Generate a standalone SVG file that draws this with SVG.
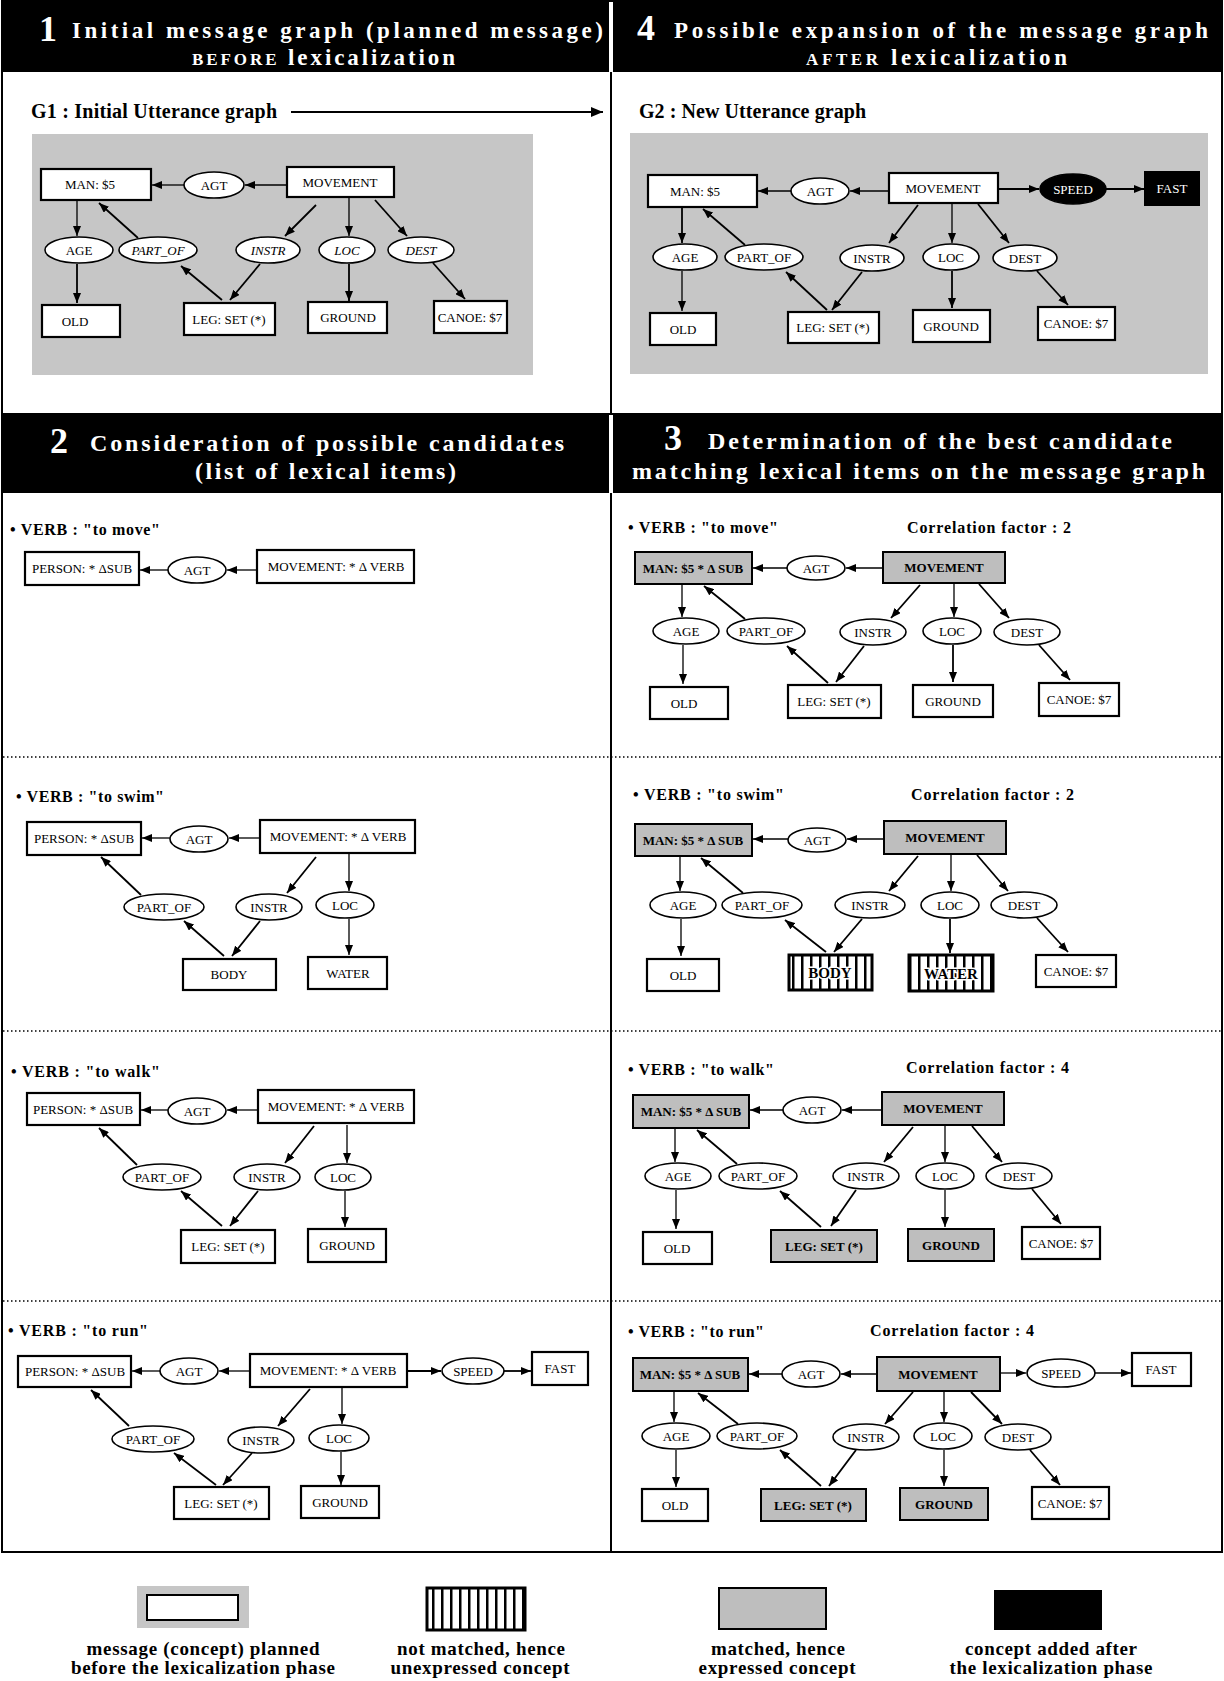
<svg xmlns="http://www.w3.org/2000/svg" width="1224" height="1681" viewBox="0 0 1224 1681">
<style>
.frame{fill:none;stroke:#000;stroke-width:2}
.hdr{fill:#000}
.ht{font-family:"Liberation Serif","Times New Roman",serif;font-weight:bold;fill:#fff;font-size:24px}
.ht1{font-size:23px}
.hn{font-family:"Liberation Serif","Times New Roman",serif;font-weight:bold;fill:#fff;font-size:36px}
.sc{font-size:17px}
.lbl{font-family:"Liberation Serif","Times New Roman",serif;font-weight:bold;font-size:16px;fill:#000}
.g{font-family:"Liberation Serif","Times New Roman",serif;font-weight:bold;font-size:20px;fill:#000}
.bg{fill:#c6c6c6}
.box{fill:#fff;stroke:#000;stroke-width:2.2}
.gbox{fill:#bebebe;stroke:#000;stroke-width:2}
.sbox{fill:url(#stripes);stroke:#000;stroke-width:3}
.kbox{fill:#000;stroke:#000;stroke-width:2}
.ell{fill:#fff;stroke:#000;stroke-width:1.6}
.kell{fill:#000;stroke:#000;stroke-width:1.6}
.t{font-family:"Liberation Serif","Times New Roman",serif;font-size:13px;text-anchor:middle;fill:#000}
.b{font-weight:bold}
.i{font-style:italic}
.w{fill:#fff}
.big{font-size:15px;stroke:#fff;stroke-width:3px;paint-order:stroke;stroke-linejoin:round}
.e{fill:none;stroke:#000;stroke-width:1.8;marker-end:url(#ah)}
.h{stroke-width:1.3}
.dot{fill:none;stroke:#000;stroke-width:1.5;stroke-dasharray:1.5 2.5}
.leg{font-family:"Liberation Serif","Times New Roman",serif;font-weight:bold;font-size:19px;text-anchor:middle;fill:#000}
</style>
<defs>
<marker id="ah" viewBox="0 0 10 8" refX="10" refY="4" markerWidth="10" markerHeight="8" markerUnits="userSpaceOnUse" orient="auto"><path d="M0,0 L10,4 L0,8 z" fill="#000"/></marker>
<marker id="ahb" viewBox="0 0 12 10" refX="12" refY="5" markerWidth="13" markerHeight="10" markerUnits="userSpaceOnUse" orient="auto"><path d="M0,0 L12,5 L0,10 z" fill="#000"/></marker>
<pattern id="stripes" width="9" height="10" patternUnits="userSpaceOnUse"><rect width="9" height="10" fill="#fff"/><rect x="0" width="2.5" height="10" fill="#000"/></pattern>
</defs>
<rect width="1224" height="1681" fill="#fff"/>

<!-- frame and dividers -->
<g id="frame">
<rect class="frame" x="2" y="1" width="1220" height="1551"/>
<line x1="2" y1="414" x2="1222" y2="414" stroke="#000" stroke-width="2"/>
<line x1="611" y1="72" x2="611" y2="414" stroke="#000" stroke-width="2"/>
<line x1="611" y1="493" x2="611" y2="1552" stroke="#000" stroke-width="2"/>
<line class="dot" x1="3" y1="757" x2="1221" y2="757"/>
<line class="dot" x1="3" y1="1031" x2="1221" y2="1031"/>
<line class="dot" x1="3" y1="1301" x2="1221" y2="1301"/>
</g>

<!-- headers -->
<g id="header1">
<rect class="hdr" x="2" y="1" width="607" height="71"/>
<text class="hn" x="39" y="41">1</text>
<text class="ht ht1" x="72" y="38" textLength="531">Initial message graph (planned message)</text>
<text class="ht ht1" x="192" y="65" textLength="263"><tspan class="sc">BEFORE</tspan> lexicalization</text>
</g>
<g id="header4">
<rect class="hdr" x="613" y="1" width="609" height="71"/>
<text class="hn" x="637" y="40">4</text>
<text class="ht ht1" x="674" y="38" textLength="534">Possible expansion of the message graph</text>
<text class="ht ht1" x="806" y="65" textLength="261"><tspan class="sc">AFTER</tspan> lexicalization</text>
</g>
<g id="header2">
<rect class="hdr" x="2" y="415" width="607" height="78"/>
<text class="hn" x="50" y="453">2</text>
<text class="ht" x="90" y="451" textLength="474">Consideration of possible candidates</text>
<text class="ht" x="195" y="479" textLength="261">(list of lexical items)</text>
</g>
<g id="header3">
<rect class="hdr" x="613" y="415" width="609" height="78"/>
<text class="hn" x="664" y="450">3</text>
<text class="ht" x="708" y="449" textLength="464">Determination of the best candidate</text>
<text class="ht" x="632" y="479" textLength="573">matching lexical items on the message graph</text>
</g>

<!-- panel 1 -->
<text class="g" x="31" y="118" textLength="246">G1 : Initial Utterance graph</text>
<rect class="bg" x="32" y="134" width="501" height="241"/>
<g id="p1-man"><rect class="box" x="41" y="169" width="110" height="31"/><text class="t" x="90" y="189">MAN: $5</text></g>
<g id="p1-agt"><ellipse class="ell" cx="214" cy="185" rx="30" ry="13"/><text class="t" x="214" y="189.5">AGT</text></g>
<g id="p1-mov"><rect class="box" x="287" y="167" width="107" height="30"/><text class="t" x="340" y="186.5">MOVEMENT</text></g>
<g id="p1-age"><ellipse class="ell" cx="79" cy="250" rx="34" ry="13"/><text class="t" x="79" y="254.5">AGE</text></g>
<g id="p1-partof"><ellipse class="ell" cx="158" cy="250" rx="39" ry="13"/><text class="t i" x="158" y="254.5">PART_OF</text></g>
<g id="p1-instr"><ellipse class="ell" cx="268" cy="250" rx="32" ry="13"/><text class="t i" x="268" y="254.5">INSTR</text></g>
<g id="p1-loc"><ellipse class="ell" cx="347" cy="250" rx="28" ry="13"/><text class="t i" x="347" y="254.5">LOC</text></g>
<g id="p1-dest"><ellipse class="ell" cx="421" cy="250" rx="33" ry="13"/><text class="t i" x="421" y="254.5">DEST</text></g>
<g id="p1-old"><rect class="box" x="42" y="305" width="78" height="32"/><text class="t" x="75" y="325.5">OLD</text></g>
<g id="p1-leg"><rect class="box" x="184" y="303" width="91" height="32"/><text class="t" x="229" y="323.5">LEG: SET (*)</text></g>
<g id="p1-ground"><rect class="box" x="308" y="302" width="79" height="31"/><text class="t" x="348" y="322">GROUND</text></g>
<g id="p1-canoe"><rect class="box" x="434" y="301" width="73" height="32"/><text class="t" x="470" y="321.5">CANOE: $7</text></g>

<!-- panel 4 -->
<text class="g" x="639" y="118" textLength="227">G2 : New Utterance graph</text>
<rect class="bg" x="630" y="133" width="578" height="241"/>
<g id="p4-man"><rect class="box" x="648" y="175" width="109" height="32"/><text class="t" x="695" y="195.5">MAN: $5</text></g>
<g id="p4-agt"><ellipse class="ell" cx="820" cy="191" rx="29" ry="13"/><text class="t" x="820" y="195.5">AGT</text></g>
<g id="p4-mov"><rect class="box" x="889" y="173" width="109" height="30"/><text class="t" x="943" y="192.5">MOVEMENT</text></g>
<g id="p4-speed"><ellipse class="kell" cx="1073" cy="189" rx="33" ry="15"/><text class="t w" x="1073" y="193.5">SPEED</text></g>
<g id="p4-fast"><rect class="kbox" x="1145" y="172" width="54" height="33"/><text class="t w" x="1172" y="193">FAST</text></g>
<g id="p4-age"><ellipse class="ell" cx="685" cy="257" rx="32" ry="13"/><text class="t" x="685" y="261.5">AGE</text></g>
<g id="p4-partof"><ellipse class="ell" cx="764" cy="257" rx="39" ry="13"/><text class="t" x="764" y="261.5">PART_OF</text></g>
<g id="p4-instr"><ellipse class="ell" cx="872" cy="258" rx="32" ry="13"/><text class="t" x="872" y="262.5">INSTR</text></g>
<g id="p4-loc"><ellipse class="ell" cx="951" cy="257" rx="28" ry="13"/><text class="t" x="951" y="261.5">LOC</text></g>
<g id="p4-dest"><ellipse class="ell" cx="1025" cy="258" rx="32" ry="13"/><text class="t" x="1025" y="262.5">DEST</text></g>
<g id="p4-old"><rect class="box" x="650" y="313" width="66" height="32"/><text class="t" x="683" y="333.5">OLD</text></g>
<g id="p4-leg"><rect class="box" x="788" y="312" width="91" height="31"/><text class="t" x="833" y="332">LEG: SET (*)</text></g>
<g id="p4-ground"><rect class="box" x="913" y="310" width="77" height="32"/><text class="t" x="951" y="330.5">GROUND</text></g>
<g id="p4-canoe"><rect class="box" x="1038" y="307" width="77" height="33"/><text class="t" x="1076" y="328">CANOE: $7</text></g>

<!-- row 1 -->
<text class="lbl" x="10" y="535" textLength="150">• VERB : "to move"</text>
<g id="r1l-person"><rect class="box" x="25" y="552" width="114" height="33"/><text class="t" x="82" y="573">PERSON: * ΔSUB</text></g>
<g id="r1l-agt"><ellipse class="ell" cx="197" cy="570" rx="29" ry="13"/><text class="t" x="197" y="574.5">AGT</text></g>
<g id="r1l-mov"><rect class="box" x="257" y="550" width="157" height="33"/><text class="t" x="336" y="571">MOVEMENT: * Δ VERB</text></g>

<text class="lbl" x="628" y="533" textLength="150">• VERB : "to move"</text>
<text class="lbl" x="907" y="533" textLength="164">Correlation factor : 2</text>
<g id="r1r-man"><rect class="gbox" x="635" y="552" width="117" height="32"/><text class="t b" x="693" y="572.5">MAN: $5 * Δ SUB</text></g>
<g id="r1r-agt"><ellipse class="ell" cx="816" cy="568" rx="29" ry="12"/><text class="t" x="816" y="572.5">AGT</text></g>
<g id="r1r-mov"><rect class="gbox" x="883" y="552" width="122" height="31"/><text class="t b" x="944" y="572">MOVEMENT</text></g>
<g id="r1r-age"><ellipse class="ell" cx="686" cy="631" rx="33" ry="13"/><text class="t" x="686" y="635.5">AGE</text></g>
<g id="r1r-partof"><ellipse class="ell" cx="766" cy="631" rx="39" ry="13"/><text class="t" x="766" y="635.5">PART_OF</text></g>
<g id="r1r-instr"><ellipse class="ell" cx="873" cy="632" rx="33" ry="13"/><text class="t" x="873" y="636.5">INSTR</text></g>
<g id="r1r-loc"><ellipse class="ell" cx="952" cy="631" rx="29" ry="13"/><text class="t" x="952" y="635.5">LOC</text></g>
<g id="r1r-dest"><ellipse class="ell" cx="1027" cy="632" rx="33" ry="13"/><text class="t" x="1027" y="636.5">DEST</text></g>
<g id="r1r-old"><rect class="box" x="650" y="687" width="78" height="32"/><text class="t" x="684" y="707.5">OLD</text></g>
<g id="r1r-leg"><rect class="box" x="788" y="685" width="93" height="33"/><text class="t" x="834" y="706">LEG: SET (*)</text></g>
<g id="r1r-ground"><rect class="box" x="913" y="685" width="80" height="32"/><text class="t" x="953" y="705.5">GROUND</text></g>
<g id="r1r-canoe"><rect class="box" x="1039" y="683" width="80" height="33"/><text class="t" x="1079" y="704">CANOE: $7</text></g>

<!-- row 2 -->
<text class="lbl" x="16" y="802" textLength="148">• VERB : "to swim"</text>
<g id="r2l-person"><rect class="box" x="27" y="822" width="114" height="33"/><text class="t" x="84" y="843">PERSON: * ΔSUB</text></g>
<g id="r2l-agt"><ellipse class="ell" cx="199" cy="839" rx="29" ry="13"/><text class="t" x="199" y="843.5">AGT</text></g>
<g id="r2l-mov"><rect class="box" x="260" y="820" width="155" height="33"/><text class="t" x="338" y="841">MOVEMENT: * Δ VERB</text></g>
<g id="r2l-partof"><ellipse class="ell" cx="164" cy="907" rx="40" ry="13"/><text class="t" x="164" y="911.5">PART_OF</text></g>
<g id="r2l-instr"><ellipse class="ell" cx="269" cy="907" rx="33" ry="13"/><text class="t" x="269" y="911.5">INSTR</text></g>
<g id="r2l-loc"><ellipse class="ell" cx="345" cy="905" rx="29" ry="13"/><text class="t" x="345" y="909.5">LOC</text></g>
<g id="r2l-body"><rect class="box" x="183" y="959" width="93" height="31"/><text class="t" x="229" y="979">BODY</text></g>
<g id="r2l-water"><rect class="box" x="308" y="957" width="79" height="32"/><text class="t" x="348" y="977.5">WATER</text></g>

<text class="lbl" x="633" y="800" textLength="151">• VERB : "to swim"</text>
<text class="lbl" x="911" y="800" textLength="163">Correlation factor : 2</text>
<g id="r2r-man"><rect class="gbox" x="635" y="824" width="117" height="32"/><text class="t b" x="693" y="844.5">MAN: $5 * Δ SUB</text></g>
<g id="r2r-agt"><ellipse class="ell" cx="817" cy="840" rx="29" ry="12"/><text class="t" x="817" y="844.5">AGT</text></g>
<g id="r2r-mov"><rect class="gbox" x="884" y="821" width="122" height="33"/><text class="t b" x="945" y="842">MOVEMENT</text></g>
<g id="r2r-age"><ellipse class="ell" cx="683" cy="905" rx="33" ry="13"/><text class="t" x="683" y="909.5">AGE</text></g>
<g id="r2r-partof"><ellipse class="ell" cx="762" cy="905" rx="40" ry="13"/><text class="t" x="762" y="909.5">PART_OF</text></g>
<g id="r2r-instr"><ellipse class="ell" cx="870" cy="905" rx="35" ry="13"/><text class="t" x="870" y="909.5">INSTR</text></g>
<g id="r2r-loc"><ellipse class="ell" cx="950" cy="905" rx="29" ry="13"/><text class="t" x="950" y="909.5">LOC</text></g>
<g id="r2r-dest"><ellipse class="ell" cx="1024" cy="905" rx="33" ry="13"/><text class="t" x="1024" y="909.5">DEST</text></g>
<g id="r2r-old"><rect class="box" x="647" y="959" width="72" height="32"/><text class="t" x="683" y="979.5">OLD</text></g>
<g id="r2r-body"><rect class="sbox" x="789" y="955" width="83" height="35"/><text class="t b big" x="830" y="978">BODY</text></g>
<g id="r2r-water"><rect class="sbox" x="909" y="955" width="84" height="36"/><text class="t b big" x="951" y="978.5">WATER</text></g>
<g id="r2r-canoe"><rect class="box" x="1036" y="955" width="80" height="32"/><text class="t" x="1076" y="975.5">CANOE: $7</text></g>

<!-- row 3 -->
<text class="lbl" x="11" y="1077" textLength="149">• VERB : "to walk"</text>
<g id="r3l-person"><rect class="box" x="27" y="1093" width="113" height="32"/><text class="t" x="83" y="1113.5">PERSON: * ΔSUB</text></g>
<g id="r3l-agt"><ellipse class="ell" cx="197" cy="1111" rx="29" ry="13"/><text class="t" x="197" y="1115.5">AGT</text></g>
<g id="r3l-mov"><rect class="box" x="258" y="1090" width="156" height="33"/><text class="t" x="336" y="1111">MOVEMENT: * Δ VERB</text></g>
<g id="r3l-partof"><ellipse class="ell" cx="162" cy="1177" rx="39" ry="13"/><text class="t" x="162" y="1181.5">PART_OF</text></g>
<g id="r3l-instr"><ellipse class="ell" cx="267" cy="1177" rx="33" ry="13"/><text class="t" x="267" y="1181.5">INSTR</text></g>
<g id="r3l-loc"><ellipse class="ell" cx="343" cy="1177" rx="28" ry="13"/><text class="t" x="343" y="1181.5">LOC</text></g>
<g id="r3l-leg"><rect class="box" x="181" y="1230" width="94" height="33"/><text class="t" x="228" y="1251">LEG: SET (*)</text></g>
<g id="r3l-ground"><rect class="box" x="308" y="1229" width="78" height="33"/><text class="t" x="347" y="1250">GROUND</text></g>

<text class="lbl" x="628" y="1075" textLength="146">• VERB : "to walk"</text>
<text class="lbl" x="906" y="1073" textLength="163">Correlation factor : 4</text>
<g id="r3r-man"><rect class="gbox" x="633" y="1095" width="116" height="33"/><text class="t b" x="691" y="1116">MAN: $5 * Δ SUB</text></g>
<g id="r3r-agt"><ellipse class="ell" cx="812" cy="1110" rx="29" ry="13"/><text class="t" x="812" y="1114.5">AGT</text></g>
<g id="r3r-mov"><rect class="gbox" x="882" y="1092" width="122" height="33"/><text class="t b" x="943" y="1113">MOVEMENT</text></g>
<g id="r3r-age"><ellipse class="ell" cx="678" cy="1176" rx="33" ry="13"/><text class="t" x="678" y="1180.5">AGE</text></g>
<g id="r3r-partof"><ellipse class="ell" cx="758" cy="1176" rx="39" ry="13"/><text class="t" x="758" y="1180.5">PART_OF</text></g>
<g id="r3r-instr"><ellipse class="ell" cx="866" cy="1176" rx="33" ry="13"/><text class="t" x="866" y="1180.5">INSTR</text></g>
<g id="r3r-loc"><ellipse class="ell" cx="945" cy="1176" rx="29" ry="13"/><text class="t" x="945" y="1180.5">LOC</text></g>
<g id="r3r-dest"><ellipse class="ell" cx="1019" cy="1176" rx="33" ry="13"/><text class="t" x="1019" y="1180.5">DEST</text></g>
<g id="r3r-old"><rect class="box" x="643" y="1232" width="69" height="32"/><text class="t" x="677" y="1252.5">OLD</text></g>
<g id="r3r-leg"><rect class="gbox" x="771" y="1230" width="106" height="32"/><text class="t b" x="824" y="1250.5">LEG: SET (*)</text></g>
<g id="r3r-ground"><rect class="gbox" x="908" y="1229" width="86" height="32"/><text class="t b" x="951" y="1249.5">GROUND</text></g>
<g id="r3r-canoe"><rect class="box" x="1022" y="1227" width="78" height="32"/><text class="t" x="1061" y="1247.5">CANOE: $7</text></g>

<!-- row 4 -->
<text class="lbl" x="8" y="1336" textLength="140">• VERB : "to run"</text>
<g id="r4l-person"><rect class="box" x="18" y="1356" width="113" height="31"/><text class="t" x="75" y="1376">PERSON: * ΔSUB</text></g>
<g id="r4l-agt"><ellipse class="ell" cx="189" cy="1371" rx="29" ry="13"/><text class="t" x="189" y="1375.5">AGT</text></g>
<g id="r4l-mov"><rect class="box" x="250" y="1354" width="157" height="33"/><text class="t" x="328" y="1375">MOVEMENT: * Δ VERB</text></g>
<g id="r4l-speed"><ellipse class="ell" cx="473" cy="1371" rx="31" ry="13"/><text class="t" x="473" y="1375.5">SPEED</text></g>
<g id="r4l-fast"><rect class="box" x="532" y="1352" width="56" height="33"/><text class="t" x="560" y="1373">FAST</text></g>
<g id="r4l-partof"><ellipse class="ell" cx="153" cy="1439" rx="41" ry="13"/><text class="t" x="153" y="1443.5">PART_OF</text></g>
<g id="r4l-instr"><ellipse class="ell" cx="261" cy="1440" rx="33" ry="13"/><text class="t" x="261" y="1444.5">INSTR</text></g>
<g id="r4l-loc"><ellipse class="ell" cx="339" cy="1438" rx="30" ry="13"/><text class="t" x="339" y="1442.5">LOC</text></g>
<g id="r4l-leg"><rect class="box" x="174" y="1487" width="95" height="32"/><text class="t" x="221" y="1507.5">LEG: SET (*)</text></g>
<g id="r4l-ground"><rect class="box" x="301" y="1486" width="78" height="32"/><text class="t" x="340" y="1506.5">GROUND</text></g>

<text class="lbl" x="628" y="1337" textLength="136">• VERB : "to run"</text>
<text class="lbl" x="870" y="1336" textLength="164">Correlation factor : 4</text>
<g id="r4r-man"><rect class="gbox" x="633" y="1358" width="115" height="33"/><text class="t b" x="690" y="1379">MAN: $5 * Δ SUB</text></g>
<g id="r4r-agt"><ellipse class="ell" cx="811" cy="1374" rx="29" ry="13"/><text class="t" x="811" y="1378.5">AGT</text></g>
<g id="r4r-mov"><rect class="gbox" x="877" y="1357" width="123" height="34"/><text class="t b" x="938" y="1378.5">MOVEMENT</text></g>
<g id="r4r-speed"><ellipse class="ell" cx="1061" cy="1373" rx="34" ry="14"/><text class="t" x="1061" y="1377.5">SPEED</text></g>
<g id="r4r-fast"><rect class="box" x="1132" y="1353" width="59" height="33"/><text class="t" x="1161" y="1374">FAST</text></g>
<g id="r4r-age"><ellipse class="ell" cx="676" cy="1436" rx="34" ry="13"/><text class="t" x="676" y="1440.5">AGE</text></g>
<g id="r4r-partof"><ellipse class="ell" cx="757" cy="1436" rx="40" ry="13"/><text class="t" x="757" y="1440.5">PART_OF</text></g>
<g id="r4r-instr"><ellipse class="ell" cx="866" cy="1437" rx="33" ry="13"/><text class="t" x="866" y="1441.5">INSTR</text></g>
<g id="r4r-loc"><ellipse class="ell" cx="943" cy="1436" rx="29" ry="13"/><text class="t" x="943" y="1440.5">LOC</text></g>
<g id="r4r-dest"><ellipse class="ell" cx="1018" cy="1437" rx="33" ry="13"/><text class="t" x="1018" y="1441.5">DEST</text></g>
<g id="r4r-old"><rect class="box" x="642" y="1489" width="66" height="32"/><text class="t" x="675" y="1509.5">OLD</text></g>
<g id="r4r-leg"><rect class="gbox" x="761" y="1489" width="105" height="32"/><text class="t b" x="813" y="1509.5">LEG: SET (*)</text></g>
<g id="r4r-ground"><rect class="gbox" x="900" y="1488" width="88" height="32"/><text class="t b" x="944" y="1508.5">GROUND</text></g>
<g id="r4r-canoe"><rect class="box" x="1032" y="1487" width="77" height="32"/><text class="t" x="1070" y="1507.5">CANOE: $7</text></g>

<!-- connectors -->
<g id="connectors">
<path d="M291,112 L603,112" fill="none" stroke="#000" stroke-width="2" marker-end="url(#ahb)"/>
<!-- p1 -->
<path class="e h" d="M286,185 L245,185"/>
<path class="e h" d="M184,185 L152,185"/>
<path class="e h" d="M77,201 L77,236"/>
<path class="e" d="M138,238 L99,203"/>
<path class="e" d="M316,205 L285,236"/>
<path class="e h" d="M349,198 L349,236"/>
<path class="e" d="M375,200 L407,236"/>
<path class="e" d="M77,264 L77,303"/>
<path class="e" d="M222,300 L181,266"/>
<path class="e" d="M260,264 L230,300"/>
<path class="e" d="M349,264 L349,301"/>
<path class="e" d="M433,263 L465,299"/>
<!-- p4 -->
<path class="e h" d="M889,191 L850,191"/>
<path class="e h" d="M791,191 L758,191"/>
<path class="e" d="M998,189 L1039,189"/>
<path class="e" d="M1106,189 L1144,189"/>
<path class="e" d="M682,208 L682,243"/>
<path class="e" d="M745,245 L703,209"/>
<path class="e" d="M918,205 L889,243"/>
<path class="e h" d="M952,204 L952,243"/>
<path class="e" d="M978,204 L1009,243"/>
<path class="e h" d="M682,271 L682,311"/>
<path class="e" d="M827,310 L786,272"/>
<path class="e" d="M862,272 L832,310"/>
<path class="e" d="M952,271 L952,308"/>
<path class="e" d="M1037,271 L1068,305"/>
<!-- r1 left -->
<path class="e h" d="M257,570 L227,570"/>
<path class="e h" d="M168,570 L140,570"/>
<!-- r1 right -->
<path class="e h" d="M883,568 L846,568"/>
<path class="e h" d="M787,568 L753,568"/>
<path class="e h" d="M682,585 L682,617"/>
<path class="e" d="M745,619 L704,586"/>
<path class="e" d="M920,585 L891,618"/>
<path class="e h" d="M954,584 L954,617"/>
<path class="e" d="M979,584 L1009,618"/>
<path class="e h" d="M683,645 L683,684"/>
<path class="e" d="M828,683 L787,646"/>
<path class="e" d="M864,646 L836,682"/>
<path class="e" d="M953,645 L953,682"/>
<path class="e" d="M1039,645 L1070,680"/>
<!-- r2 left -->
<path class="e h" d="M260,838 L229,838"/>
<path class="e h" d="M170,838 L142,838"/>
<path class="e" d="M141,895 L101,857"/>
<path class="e" d="M316,857 L287,893"/>
<path class="e h" d="M349,854 L349,891"/>
<path class="e" d="M224,956 L184,921"/>
<path class="e" d="M260,921 L232,956"/>
<path class="e h" d="M349,919 L349,955"/>
<!-- r2 right -->
<path class="e h" d="M884,839 L847,839"/>
<path class="e h" d="M788,839 L753,839"/>
<path class="e h" d="M680,857 L680,891"/>
<path class="e" d="M743,893 L701,858"/>
<path class="e" d="M918,856 L889,891"/>
<path class="e h" d="M951,855 L951,891"/>
<path class="e" d="M977,855 L1008,891"/>
<path class="e h" d="M681,919 L681,956"/>
<path class="e" d="M826,952 L785,920"/>
<path class="e" d="M862,919 L834,952"/>
<path class="e" d="M950,919 L950,953"/>
<path class="e" d="M1037,918 L1068,952"/>
<!-- r3 left -->
<path class="e h" d="M258,1110 L227,1110"/>
<path class="e h" d="M168,1110 L141,1110"/>
<path class="e" d="M137,1165 L99,1128"/>
<path class="e" d="M314,1126 L285,1163"/>
<path class="e h" d="M347,1125 L347,1163"/>
<path class="e" d="M222,1226 L181,1191"/>
<path class="e" d="M258,1191 L230,1226"/>
<path class="e h" d="M345,1191 L345,1227"/>
<!-- r3 right -->
<path class="e h" d="M882,1110 L842,1110"/>
<path class="e h" d="M783,1110 L750,1110"/>
<path class="e h" d="M675,1129 L675,1162"/>
<path class="e" d="M737,1164 L697,1130"/>
<path class="e" d="M913,1127 L884,1162"/>
<path class="e h" d="M945,1126 L945,1162"/>
<path class="e" d="M972,1126 L1002,1162"/>
<path class="e h" d="M676,1190 L676,1229"/>
<path class="e" d="M821,1227 L780,1191"/>
<path class="e" d="M856,1190 L831,1226"/>
<path class="e h" d="M945,1190 L945,1227"/>
<path class="e" d="M1032,1189 L1061,1224"/>
<!-- r4 left -->
<path class="e h" d="M250,1371 L219,1371"/>
<path class="e h" d="M160,1371 L132,1371"/>
<path class="e" d="M407,1371 L441,1371"/>
<path class="e" d="M504,1371 L531,1371"/>
<path class="e" d="M129,1426 L91,1390"/>
<path class="e" d="M310,1389 L278,1426"/>
<path class="e h" d="M342,1388 L342,1424"/>
<path class="e" d="M216,1485 L174,1453"/>
<path class="e" d="M252,1453 L223,1485"/>
<path class="e h" d="M341,1452 L341,1485"/>
<!-- r4 right -->
<path class="e h" d="M877,1374 L841,1374"/>
<path class="e h" d="M782,1374 L749,1374"/>
<path class="e h" d="M1000,1373 L1026,1373"/>
<path class="e h" d="M1095,1373 L1131,1373"/>
<path class="e h" d="M674,1392 L674,1422"/>
<path class="e" d="M738,1424 L698,1393"/>
<path class="e" d="M913,1392 L885,1424"/>
<path class="e h" d="M944,1392 L944,1422"/>
<path class="e" d="M971,1392 L1002,1424"/>
<path class="e h" d="M676,1450 L676,1487"/>
<path class="e" d="M821,1486 L780,1450"/>
<path class="e" d="M856,1450 L829,1486"/>
<path class="e h" d="M944,1450 L944,1486"/>
<path class="e" d="M1030,1450 L1060,1485"/>
</g>

<!-- legend -->
<g id="legend-planned">
<rect class="bg" x="137" y="1586" width="112" height="42"/>
<rect x="147" y="1595" width="91" height="25" fill="#fff" stroke="#000" stroke-width="2"/>
<text class="leg" x="203" y="1655" textLength="233">message (concept) planned</text>
<text class="leg" x="203" y="1674" textLength="264">before the lexicalization phase</text>
</g>
<g id="legend-unmatched">
<rect class="sbox" x="427" y="1588" width="98" height="42" stroke-width="2"/>
<text class="leg" x="481" y="1655" textLength="168">not matched, hence</text>
<text class="leg" x="480" y="1674" textLength="179">unexpressed concept</text>
</g>
<g id="legend-matched">
<rect class="gbox" x="719" y="1588" width="107" height="41" stroke-width="1.5"/>
<text class="leg" x="778" y="1655" textLength="134">matched, hence</text>
<text class="leg" x="777" y="1674" textLength="157">expressed concept</text>
</g>
<g id="legend-added">
<rect x="994" y="1590" width="108" height="40" fill="#000"/>
<text class="leg" x="1051" y="1655" textLength="172">concept added after</text>
<text class="leg" x="1051" y="1674" textLength="203">the lexicalization phase</text>
</g>
</svg>
